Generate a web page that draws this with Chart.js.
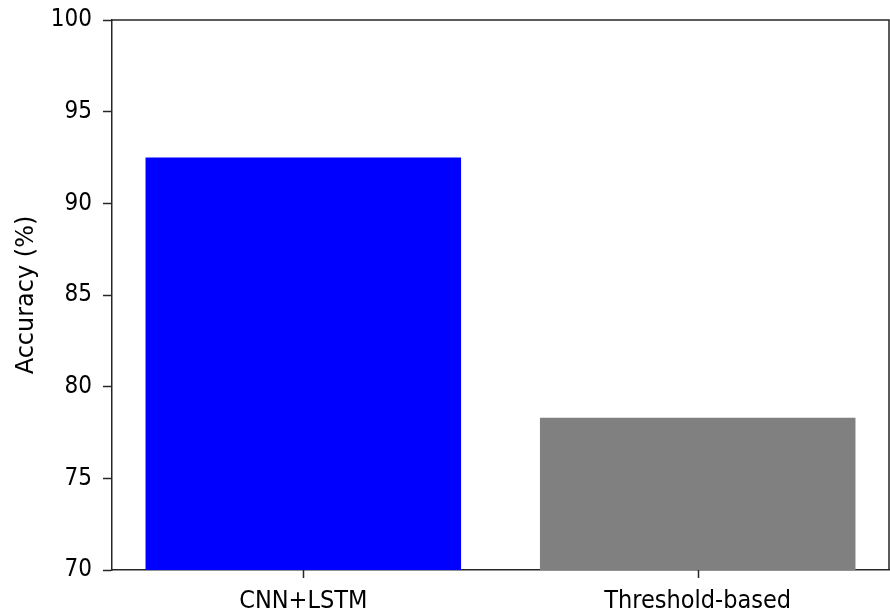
<!DOCTYPE html>
<html><head><meta charset="utf-8">
<script src="https://cdn.jsdelivr.net/npm/chart.js@4.4.1/dist/chart.umd.min.js"></script>
<style>html,body{margin:0;padding:0;background:#fff}#wrap{width:890px;height:611px}canvas{display:block}</style>
</head><body><div id="wrap"><canvas id="c" width="890" height="611" style="width:890px;height:611px"></canvas></div>
<script>
const categories = ['CNN+LSTM', 'Threshold-based'];
const accuracy = [92.5, 78.3];
const barColors = ['#0000ff', '#808080'];
const yTicks = [70, 75, 80, 85, 90, 95, 100];

const axisColor = '#262626';
const tickFont = { family: "'DejaVu Sans Condensed', 'DejaVu Sans', sans-serif", size: 24 };
const xFont = { family: "'DejaVu Sans Condensed', 'DejaVu Sans', sans-serif", size: 25 };

const frame = {
  id: 'frame',
  afterDraw(chart) {
    const { ctx, chartArea: a } = chart;
    const xs = chart.scales.x;
    ctx.save();
    ctx.strokeStyle = axisColor;
    ctx.lineWidth = 1.5;
    ctx.beginPath();
    ctx.moveTo(a.left, a.top);
    ctx.lineTo(a.right, a.top);
    ctx.lineTo(a.right, a.bottom);
    // x-axis tick marks at the category positions
    xs.ticks.forEach(t => {
      const px = Math.round(xs.getPixelForValue(t.value)) + 0.5;
      ctx.moveTo(px, a.bottom);
      ctx.lineTo(px, a.bottom + 8);
    });
    ctx.stroke();
    ctx.restore();
  }
};

new Chart(document.getElementById('c'), {
  type: 'bar',
  data: {
    datasets: [{
      data: categories.map((c, i) => ({ x: i, y: accuracy[i] })),
      backgroundColor: barColors,
      borderWidth: 0,
      barPercentage: 0.8,
      categoryPercentage: 1
    }]
  },
  options: {
    responsive: false,
    animation: false,
    devicePixelRatio: 1,
    layout: { padding: { top: 20, right: 1, left: 0, bottom: 0 } },
    plugins: { legend: { display: false }, tooltip: { enabled: false } },
    scales: {
      x: {
        type: 'linear',
        min: -0.485, max: 1.485,
        offset: false,
        grid: { display: false },
        border: { display: true, color: axisColor, width: 1.5 },
        ticks: { color: '#000', font: xFont, padding: 8, maxRotation: 0, autoSkip: false,
          callback: (v) => categories[v] },
        afterBuildTicks(s) { s.ticks = categories.map((c, i) => ({ value: i })); },
        afterFit(s) { s.height = 41; }
      },
      y: {
        min: 70, max: 100,
        grid: { display: true, drawOnChartArea: false, tickLength: 9, tickColor: axisColor, tickWidth: 1.5 },
        border: { color: axisColor, width: 1.5 },
        ticks: { color: '#000', font: tickFont, padding: 11, stepSize: 5 },
        afterBuildTicks(s) { s.ticks = yTicks.map(v => ({ value: v })); },
        title: {
          display: true, text: 'Accuracy (%)', color: '#000',
          font: { family: "'DejaVu Sans', sans-serif", size: 24 },
          padding: { top: 12, bottom: 0 }
        },
        afterFit(s) { s.width = 112; s.paddingTop = 0; s.paddingBottom = 0; }
      }
    }
  },
  plugins: [frame]
});
</script>
</body></html>
